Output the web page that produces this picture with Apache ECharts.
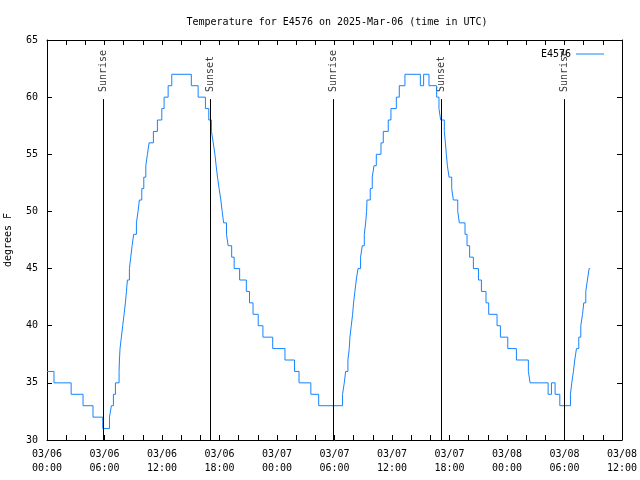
<!DOCTYPE html>
<html><head><meta charset="utf-8">
<script src="https://cdn.jsdelivr.net/npm/echarts@6/dist/echarts.min.js"></script>
<style>html,body{margin:0;padding:0;background:#fff}#c{width:640px;height:480px}</style>
</head><body><div id="c"></div>
<script>
const chartTitle = 'Temperature for E4576 on 2025-Mar-06 (time in UTC)';
const seriesName = 'E4576';
const yAxisName = 'degrees F';
const xTickLabels = ['03/06\n00:00','03/06\n06:00','03/06\n12:00','03/06\n18:00','03/07\n00:00','03/07\n06:00','03/07\n12:00','03/07\n18:00','03/08\n00:00','03/08\n06:00','03/08\n12:00'];
// hours since 03/06 00:00 UTC at which the reading changes to the value in tempF
const timeHours = [0,0.73,2.52,3.76,4.8,5.82,
 6.52,6.72,6.93,7.14,7.52,7.56,7.62,7.76,7.9,8.04,8.18,8.29,8.39,8.6,8.74,8.88,9.05,9.33,9.5,9.64,9.89,10.1,10.31,10.48,10.65,11.1,11.52,11.98,12.22,12.64,13.02,
 15.06,15.77,16.53,16.88,17.16,17.35,17.52,17.65,17.79,17.96,18.14,18.28,18.43,18.73,18.9,19.27,19.53,20.1,20.8,21.13,21.5,22.04,22.53,23.55,24.83,25.83,26.3,27.53,28.35,
 30.84,31.02,31.16,31.4,31.54,31.61,31.75,31.89,31.99,32.13,32.27,32.45,32.72,32.9,33.11,33.25,33.35,33.39,33.73,33.94,34.12,34.36,34.85,35.09,35.61,35.89,36.45,36.76,37.35,
 38.96,39.3,39.86,40.66,40.9,41.08,41.46,41.57,41.67,41.78,41.95,42.23,42.4,42.86,43.03,43.62,43.83,44.1,44.49,45.02,45.33,45.81,46.09,46.96,47.31,48.08,48.98,50.23,50.41,52.29,52.64,53.02,53.51,
 54.62,54.76,54.93,55.07,55.25,55.49,55.7,55.88,56.01,56.22,56.39,56.57,56.67];
const tempF = [36,35,34,33,32,31,
 32,33,34,35,36,37,38,39,40,41,42,43,44,45,46,47,48,49,50,51,52,53,54,55,56,57,58,59,60,61,62,
 61,60,59,58,57,56,55,54,53,52,51,50,49,48,47,46,45,44,43,42,41,40,39,38,37,36,35,34,33,
 34,35,36,37,38,39,40,41,42,43,44,45,46,47,48,49,50,51,52,53,54,55,56,57,58,59,60,61,62,
 61,62,61,60,59,58,57,56,55,54,53,52,51,50,49,48,47,46,45,44,43,42,41,40,39,38,37,36,35,34,35,34,33,
 34,35,36,37,38,39,40,41,42,43,44,45,45];
const sunLabels = ['Sunrise','Sunset','Sunrise','Sunset','Sunrise'];
const sunHours = [5.88,17.06,29.9,41.17,53.97];
const sunLineTop = 59.83;
const sunLabelBase = 60.45;

const FONT = 'DejaVu Sans Mono';
const LINE = '#1583ff';
const chart = echarts.init(document.getElementById('c'), null, {renderer:'canvas'});
const tickCommon = {show:true, inside:true, length:5, lineStyle:{color:'#000', width:1}};
const minorCommon = {show:true, splitNumber:3, length:5, lineStyle:{color:'#000', width:1}};
chart.setOption({
  animation:false,
  backgroundColor:'#fff',
  title:{text:chartTitle, left:332, top:12, textAlign:'center',
    textStyle:{fontFamily:FONT, fontSize:10, fontWeight:'normal', color:'#000'}},
  legend:{data:[seriesName], right:31, top:44, align:'right', icon:'rect', itemWidth:28, itemHeight:1,
    itemStyle:{color:LINE},
    textStyle:{fontFamily:FONT, fontSize:10, color:'#000'}},
  grid:{left:47, right:18, top:40, bottom:40, containLabel:false, outerBoundsMode:'none'},
  xAxis:[
    {type:'value', min:0, max:60, interval:6, position:'bottom',
     axisLine:{show:true, onZero:false, lineStyle:{color:'#000', width:1}},
     axisTick:tickCommon, minorTick:minorCommon, splitLine:{show:false},
     axisLabel:{formatter:v=>xTickLabels[Math.round(v/6)], fontFamily:FONT, fontSize:10, color:'#000', margin:7, lineHeight:14}},
    {type:'value', min:0, max:60, interval:6, position:'top',
     axisLine:{show:true, onZero:false, lineStyle:{color:'#000', width:1}},
     axisTick:tickCommon, minorTick:minorCommon, splitLine:{show:false}, axisLabel:{show:false}}
  ],
  yAxis:[
    {type:'value', min:30, max:65, interval:5, position:'left',
     name:yAxisName, nameLocation:'middle', nameGap:34, nameRotate:90,
     nameTextStyle:{fontFamily:FONT, fontSize:10, color:'#000'},
     axisLine:{show:true, onZero:false, lineStyle:{color:'#000', width:1}},
     axisTick:tickCommon, splitLine:{show:false},
     axisLabel:{fontFamily:FONT, fontSize:10, color:'#000', margin:9}},
    {type:'value', min:30, max:65, interval:5, position:'right',
     axisLine:{show:true, onZero:false, lineStyle:{color:'#000', width:1}},
     axisTick:tickCommon, splitLine:{show:false}, axisLabel:{show:false}}
  ],
  series:[
    {type:'line', name:seriesName, step:'end', symbol:'none', showSymbol:false,
     data:timeHours.map((h,i)=>[h,tempF[i]]),
     lineStyle:{color:LINE, width:1}, itemStyle:{color:LINE},
     markLine:{silent:true, symbol:['none','none'], label:{show:false},
       lineStyle:{color:'#000', width:1, type:'solid'},
       emphasis:{disabled:true},
       data:sunHours.map(h=>[{coord:[h,30]},{coord:[h,sunLineTop]}])}},
    {type:'scatter', name:'sun', symbolSize:0, silent:true,
     data:sunHours.map((h,i)=>[h,sunLabelBase,sunLabels[i]]),
     label:{show:true, formatter:p=>p.value[2], rotate:90, position:[0,0], align:'left', verticalAlign:'middle',
       fontFamily:FONT, fontSize:10, color:'#000'}}
  ]
});
</script></body></html>
